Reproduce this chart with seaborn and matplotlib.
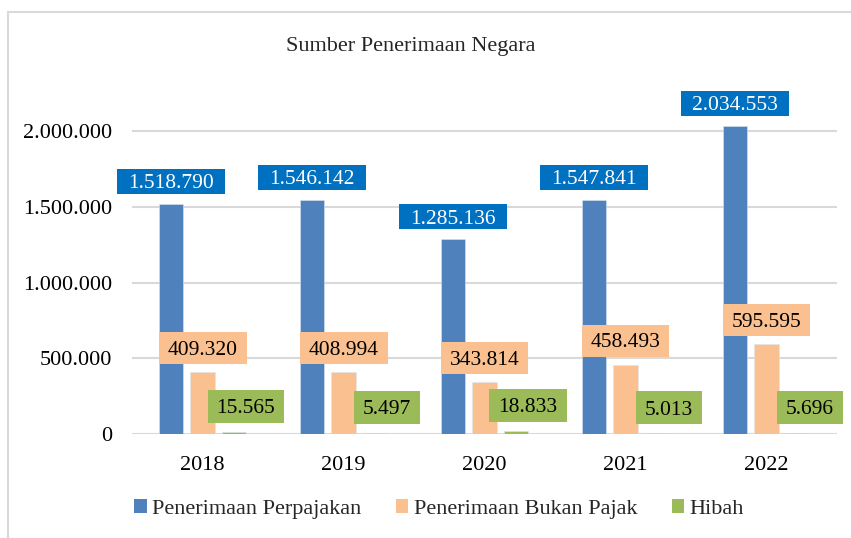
import matplotlib
matplotlib.use("Agg")
import matplotlib.pyplot as plt
import seaborn as sns
import pandas as pd
from matplotlib.ticker import FuncFormatter, FixedLocator
from matplotlib.lines import Line2D
from matplotlib.patches import Patch, Rectangle

years = ["2018", "2019", "2020", "2021", "2022"]
series_names = ["Penerimaan Perpajakan", "Penerimaan Bukan Pajak", "Hibah"]
perpajakan = [1518790, 1546142, 1285136, 1547841, 2034553]
bukan_pajak = [409320, 408994, 343814, 458493, 595595]
hibah = [15565, 5497, 18833, 5013, 5696]
title = "Sumber Penerimaan Negara"
yticks = [0, 500000, 1000000, 1500000, 2000000]

bar_colors = ["#4F81BD", "#FAC090", "#9BBB59"]
box_colors = ["#0070C0", "#FAC090", "#9BBB59"]
text_colors = ["white", "black", "black"]

rows = []
for name, vals in zip(series_names, [perpajakan, bukan_pajak, hibah]):
    for y, v in zip(years, vals):
        rows.append({"Tahun": y, "Seri": name, "Nilai": v})
df = pd.DataFrame(rows)

sns.set_theme(style="white")
plt.rcParams["font.family"] = ["Liberation Serif", "DejaVu Serif"]

W, H = 851, 538
fig = plt.figure(figsize=(W / 100, H / 100), dpi=100)
ax_top_px = 434 - 2300000 * (303 / 2000000)
ax = fig.add_axes([132 / W, (H - 434) / H, (837 - 132) / W, (434 - ax_top_px) / H])

sns.barplot(data=df, x="Tahun", y="Nilai", hue="Seri", hue_order=series_names,
            order=years, palette=bar_colors, width=0.67, gap=0.22,
            ax=ax, legend=False, saturation=1, edgecolor="#dde6f2", linewidth=0.4)

ax.set_ylim(0, 2300000)
ax.yaxis.set_major_locator(FixedLocator(yticks))
ax.yaxis.set_major_formatter(FuncFormatter(lambda v, p: f"{int(v):,}".replace(",", ".")))
ax.grid(axis="y", color="#D9D9D9", linewidth=1.5)
ax.set_axisbelow(True)
for s in ax.spines.values():
    s.set_visible(False)
ax.set_xlabel("")
ax.set_ylabel("")
ax.tick_params(axis="both", length=0, labelsize=16, colors="black")
ax.tick_params(axis="y", pad=14)
ax.tick_params(axis="x", pad=16)

# data labels
all_vals = [perpajakan, bukan_pajak, hibah]
xshift_px = [0, 0, 12]
box_h_px = [25, 32, 33]
gap_px = [10, 8, 9]
pad_x_px = [11, 9, 9]
baseline_adj = 2.3   # digit centre sits above the text-extent centre
texts = []
for i, cont in enumerate(ax.containers):
    for bar, val in zip(cont, all_vals[i]):
        x = bar.get_x() + bar.get_width() / 2
        y = bar.get_height()
        txt = f"{val:,}".replace(",", ".")
        yoff = (gap_px[i] + box_h_px[i] / 2 - baseline_adj) * 0.72
        t = ax.annotate(txt, (x, y), xytext=(xshift_px[i] * 0.72, yoff),
                        textcoords="offset points", ha="center", va="center",
                        fontsize=15.5, color=text_colors[i],
                        annotation_clip=False, zorder=7)
        texts.append((t, i))

fig.text(411 / W, 1 - 47 / H, title, ha="center", va="center", fontsize=16)

handles = [Patch(facecolor=c, edgecolor="none") for c in bar_colors]
fig.legend(handles, series_names, loc="center", bbox_to_anchor=(439 / W, 1 - 509 / H),
           ncol=3, frameon=False, fontsize=16, handlelength=0.55, handleheight=0.55,
           handletextpad=0.25, columnspacing=1.55)

# chart frame (left and top edges visible)
fig.add_artist(Line2D([7.5 / W, 7.5 / W], [0, 1 - 12 / H], transform=fig.transFigure,
                      color="#D9D9D9", linewidth=1.5))
fig.add_artist(Line2D([7.5 / W, 1], [1 - 12 / H, 1 - 12 / H], transform=fig.transFigure,
                      color="#D9D9D9", linewidth=1.5))

# label boxes sized around the rendered text
fig.canvas.draw()
renderer = fig.canvas.get_renderer()
inv = fig.transFigure.inverted()
for t, i in texts:
    ext = t.get_window_extent(renderer)
    cx = (ext.x0 + ext.x1) / 2
    cy = (ext.y0 + ext.y1) / 2 + baseline_adj
    w = ext.width + 2 * pad_x_px[i]
    h = box_h_px[i]
    (fx0, fy0) = inv.transform((cx - w / 2, cy - h / 2))
    (fx1, fy1) = inv.transform((cx + w / 2, cy + h / 2))
    ax.add_patch(Rectangle((fx0, fy0), fx1 - fx0, fy1 - fy0, transform=fig.transFigure,
                           facecolor=box_colors[i], edgecolor="none", zorder=6,
                           clip_on=False))

fig.savefig("out.png", dpi=100)
